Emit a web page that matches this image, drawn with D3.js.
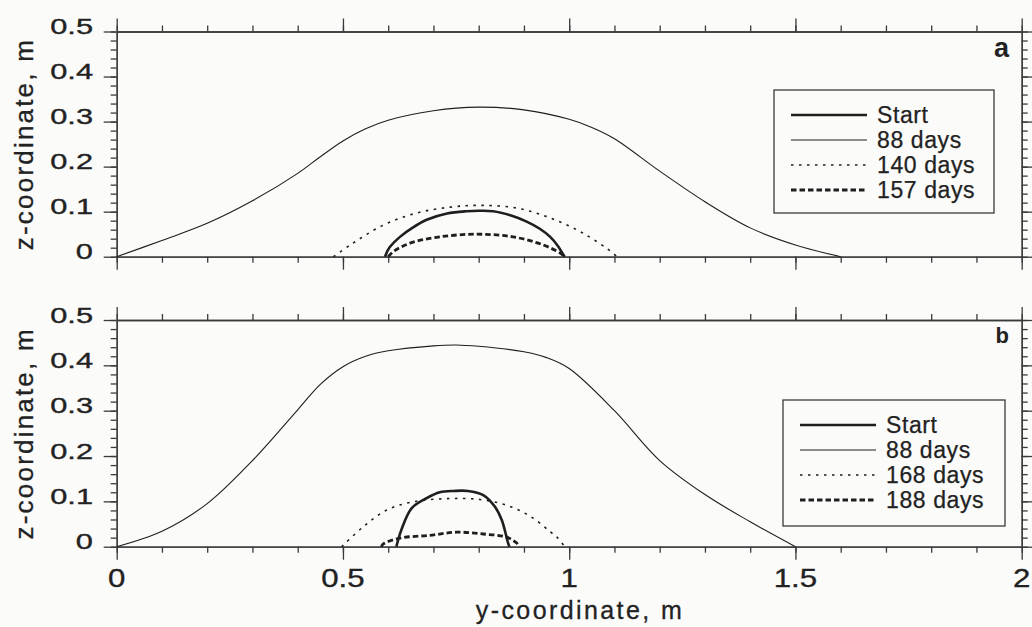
<!DOCTYPE html>
<html>
<head>
<meta charset="utf-8">
<script src="https://cdn.jsdelivr.net/npm/d3@7"></script>
<style>
  html, body { margin: 0; padding: 0; background: #fbfbfa; }
  svg { display: block; }
  text { font-family: "Liberation Sans", Arial, Helvetica, sans-serif; fill: #222; }
</style>
</head>
<body>
<div id="chart"></div>
<script>
// ---- data: [y-coordinate (m), z-coordinate (m)] ----
const aStart = [[0.593,0],[0.598,0.012],[0.604,0.022],[0.626,0.044],[0.655,0.065],[0.685,0.082],[0.73,0.096],[0.773,0.101],[0.80,0.102],[0.832,0.101],[0.87,0.092],[0.906,0.078],[0.935,0.062],[0.958,0.044],[0.975,0.024],[0.986,0.006],[0.99,0]];
const a88 = [[0,0],[0.1,0.036],[0.2,0.074],[0.3,0.124],[0.4,0.185],[0.45,0.222],[0.5,0.257],[0.55,0.284],[0.6,0.303],[0.7,0.324],[0.8,0.332],[0.9,0.326],[1.0,0.305],[1.05,0.287],[1.1,0.262],[1.2,0.190],[1.3,0.122],[1.4,0.064],[1.5,0.026],[1.6,0]];
const a140 = [[0.479,0],[0.516,0.026],[0.589,0.07],[0.663,0.097],[0.737,0.11],[0.803,0.114],[0.884,0.108],[0.958,0.086],[1.031,0.052],[1.097,0.008],[1.105,0]];
const a157 = [[0.6,0],[0.611,0.011],[0.648,0.030],[0.714,0.044],[0.796,0.050],[0.876,0.044],[0.943,0.026],[0.98,0.008],[0.99,0]];

const bStart = [[0.618,0],[0.622,0.015],[0.629,0.037],[0.652,0.085],[0.685,0.107],[0.714,0.120],[0.745,0.123],[0.776,0.123],[0.810,0.114],[0.836,0.088],[0.851,0.059],[0.865,0.008],[0.868,0]];
const b88 = [[0,0],[0.1,0.034],[0.2,0.095],[0.3,0.19],[0.4,0.302],[0.45,0.358],[0.5,0.397],[0.55,0.420],[0.6,0.432],[0.7,0.443],[0.75,0.445],[0.8,0.442],[0.9,0.430],[0.95,0.417],[1.0,0.393],[1.1,0.30],[1.2,0.19],[1.3,0.115],[1.4,0.055],[1.5,0]];
const b168 = [[0.497,0],[0.545,0.044],[0.597,0.081],[0.655,0.099],[0.729,0.106],[0.803,0.104],[0.869,0.089],[0.920,0.063],[0.958,0.033],[0.975,0.019],[0.99,0]];
const b188 = [[0.585,0],[0.589,0.006],[0.626,0.019],[0.692,0.025],[0.751,0.032],[0.810,0.028],[0.862,0.021],[0.884,0.008],[0.89,0]];

const legendA = ["Start", "88 days", "140 days", "157 days"];
const legendB = ["Start", "88 days", "168 days", "188 days"];
const xTickLabels = ["0", "0.5", "1", "1.5", "2"];
const yTickLabels = ["0", "0.1", "0.2", "0.3", "0.4", "0.5"];
const panelLetters = ["a", "b"];

const width = 1032, height = 627;
const left = 116.7, right = 1021.7;

const svg = d3.select("#chart").append("svg")
  .attr("width", width)
  .attr("height", height);

const x = d3.scaleLinear().domain([0, 2]).range([left, right]);

// line styles per legend row
const styles = [
  {w: 2.6, dash: null},
  {w: 1.1, dash: null},
  {w: 1.6, dash: "2.5,5.5"},
  {w: 2.8, dash: "5.5,3"}
];

const axisColor = "#3a3a3a";
const inkColor = "#1e1e1e";

function drawPanel(top, bottom, series, legendNames, letter, letterSize, legendBox, showXLabels) {
  const y = d3.scaleLinear().domain([0, 0.5]).range([bottom, top]);
  const g = svg.append("g");

  const xMinor = d3.range(0, 2.0001, 0.1);
  const xMajor = xTickLabels.map(Number);
  const yMinor = d3.range(0, 0.5001, 0.02);
  const yMajor = yTickLabels.map(Number);

  // bottom / top axes
  [[d3.axisBottom, bottom], [d3.axisTop, top]].forEach(([ax, pos]) => {
    g.append("g").attr("transform", `translate(0,${pos})`)
      .call(ax(x).tickValues(xMinor).tickSize(6).tickSizeOuter(0).tickFormat(""));
    g.append("g").attr("transform", `translate(0,${pos})`)
      .call(ax(x).tickValues(xMajor).tickSize(13).tickSizeOuter(0).tickFormat(""));
  });
  // left / right axes
  [[d3.axisLeft, left], [d3.axisRight, right]].forEach(([ax, pos]) => {
    g.append("g").attr("transform", `translate(${pos},0)`)
      .call(ax(y).tickValues(yMinor).tickSize(6).tickSizeOuter(0).tickFormat(""));
    g.append("g").attr("transform", `translate(${pos},0)`)
      .call(ax(y).tickValues(yMajor).tickSize(13).tickSizeOuter(0).tickFormat(""));
  });
  g.selectAll(".domain, .tick line").attr("stroke", axisColor).attr("stroke-width", 1.3);

  // y tick labels (wide font in original)
  g.selectAll(".ylab").data(yTickLabels).join("text")
    .attr("transform", d => `translate(93,${y(+d) + 2.5}) scale(1.4,1)`)
    .attr("text-anchor", "end")
    .attr("font-size", 22)
    .attr("stroke", "#222")
    .attr("stroke-width", 0.35)
    .text(d => d);

  if (showXLabels) {
    g.selectAll(".xlab").data(xTickLabels).join("text")
      .attr("transform", d => `translate(${x(+d)},587) scale(1.2,1)`)
      .attr("text-anchor", "middle")
      .attr("font-size", 26)
      .attr("stroke", "#222")
      .attr("stroke-width", 0.35)
      .text(d => d);
  }

  // y axis label
  g.append("text")
    .attr("transform", `translate(33,${(top + bottom) / 2}) rotate(-90)`)
    .attr("text-anchor", "middle")
    .attr("font-size", 26)
    .attr("letter-spacing", 2.2)
    .attr("stroke", "#222")
    .attr("stroke-width", 0.3)
    .text("z-coordinate, m");

  // panel letter
  g.append("text")
    .attr("x", 1009)
    .attr("y", letter === "a" ? 57 : 343)
    .attr("text-anchor", "end")
    .attr("font-size", letterSize)
    .attr("font-weight", "bold")
    .text(letter);

  // curves
  const line = d3.line()
    .x(d => x(d[0]))
    .y(d => y(Math.max(0, d[1])))
    .curve(d3.curveCatmullRom.alpha(0.5));

  series.forEach((s, i) => {
    g.append("path")
      .datum(s)
      .attr("fill", "none")
      .attr("stroke", inkColor)
      .attr("stroke-width", styles[i].w)
      .attr("stroke-dasharray", styles[i].dash)
      .attr("stroke-linejoin", "round")
      .attr("d", line);
  });

  // legend
  const lg = g.append("g").attr("transform", `translate(${legendBox.x},${legendBox.y})`);
  lg.append("rect")
    .attr("width", legendBox.w)
    .attr("height", legendBox.h)
    .attr("fill", "none")
    .attr("stroke", axisColor)
    .attr("stroke-width", 1.3);
  legendNames.forEach((name, i) => {
    const ly = 25 + i * 25;
    lg.append("line")
      .attr("x1", legendBox.lx)
      .attr("x2", legendBox.lx + 76)
      .attr("y1", ly)
      .attr("y2", ly)
      .attr("stroke", inkColor)
      .attr("stroke-width", styles[i].w)
      .attr("stroke-dasharray", styles[i].dash);
    lg.append("text")
      .attr("x", legendBox.lx + 86)
      .attr("y", ly + 8)
      .attr("font-size", 23)
      .attr("letter-spacing", 0.6)
      .attr("stroke", "#222")
      .attr("stroke-width", 0.25)
      .text(name);
  });
}

drawPanel(31.5, 256.7, [aStart, a88, a140, a157], legendA, panelLetters[0], 27,
  {x: 774, y: 90, w: 220, h: 123, lx: 17}, false);
drawPanel(320, 546.7, [bStart, b88, b168, b188], legendB, panelLetters[1], 22,
  {x: 783, y: 400, w: 222, h: 126, lx: 17}, true);

// x axis label
svg.append("text")
  .attr("x", 580)
  .attr("y", 619)
  .attr("text-anchor", "middle")
  .attr("font-size", 25)
  .attr("letter-spacing", 2.4)
  .attr("stroke", "#222")
  .attr("stroke-width", 0.3)
  .text("y-coordinate, m");
</script>
</body>
</html>
